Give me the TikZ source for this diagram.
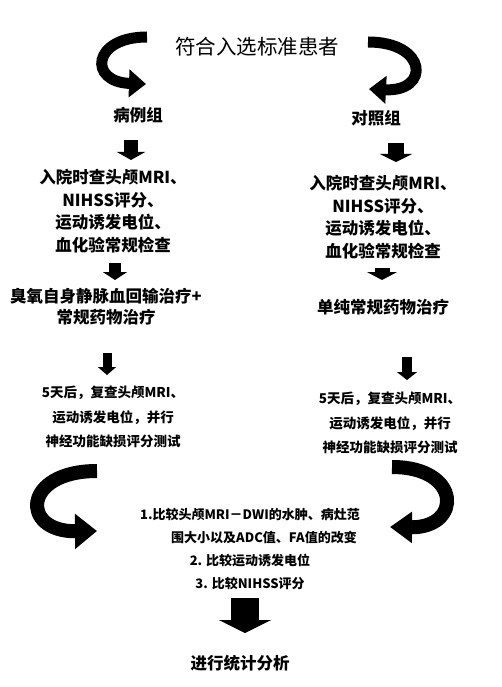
\documentclass[tikz,border=0pt]{standalone}
\usepackage{fontspec}
\newfontfamily\cjk{Noto Sans CJK SC}
\usepackage{tikz}
\usetikzlibrary{arrows.meta,positioning,calc}

\tikzset{
  txt/.style={font=\cjk\bfseries, align=center, inner sep=0pt},
  big/.style={txt, font=\cjk\bfseries\fontsize{16.5}{22.7}\selectfont},
  small/.style={txt, font=\cjk\bfseries\fontsize{13.5}{24.5}\selectfont},
  downarr/.style={draw=black, line width=#1, -{Triangle[length=8pt,width=2*#1]}},
  curvarr/.style={draw=black, line width=11pt, line cap=butt, -{Triangle[length=17pt,width=27pt]}},
}

\begin{document}
\begin{tikzpicture}[x=1pt,y=-1pt]
  \useasboundingbox (0,0) rectangle (502,687);
  % top split
  \node[txt, font=\cjk\fontsize{20.5}{24}\selectfont] (title) at (257,47) {符合入选标准患者};
  \node[txt, font=\cjk\bfseries\fontsize{16.5}{20}\selectfont] (case) at (138,115) {病例组};
  \node[txt, font=\cjk\bfseries\fontsize{16.5}{20}\selectfont] (ctrl) at (376,118) {对照组};
  \coordinate (tl) at (147,37);
  \coordinate (tr) at (368,42);
  \draw[curvarr] (tl) .. controls (92,37) and (88,82) .. (146,84);
  \draw[curvarr] (tr) .. controls (428,42) and (430,92) .. (369,89);

  % case group
  \node[big] (c1) at (113,211) {入院时查头颅MRI、\\NIHSS评分、\\运动诱发电位、\\血化验常规检查};
  \node[big, font=\cjk\bfseries\fontsize{16.5}{21}\selectfont] (c2) at (106,307) {臭氧自身静脉血回输治疗+\\常规药物治疗};
  \node[small] (c3) at (113,417) {5天后，复查头颅MRI、\\运动诱发电位，并行\\神经功能缺损评分测试};
  \coordinate (ca1) at (131,140);
  \coordinate (ca2) at (115,263);
  \coordinate (ca3) at (107,353);
  \draw[downarr=14pt] (ca1) -- ++(0,20);
  \draw[downarr=12pt] (ca2) -- ++(0,17);
  \draw[downarr=9pt] (ca3) -- ++(0,22);

  % control group
  \node[big] (k1) at (383,217) {入院时查头颅MRI、\\NIHSS评分、\\运动诱发电位、\\血化验常规检查};
  \node[big] (k2) at (383,307) {单纯常规药物治疗};
  \node[small] (k3) at (390,423) {5天后，复查头颅MRI、\\运动诱发电位，并行\\神经功能缺损评分测试};
  \coordinate (ka1) at (396,143);
  \coordinate (ka2) at (382,268);
  \coordinate (ka3) at (407,357);
  \draw[downarr=16pt] (ka1) -- ++(0,19);
  \draw[downarr=15pt] (ka2) -- ++(0,12);
  \draw[downarr=10pt] (ka3) -- ++(0,23);

  % merge
  \node[txt, font=\cjk\bfseries\fontsize{13}{22.7}\selectfont] (cmp) at (250,549)
    {1.比较头颅MRI－DWI的水肿、病灶范\\\hspace*{28pt}围大小以及ADC值、FA值的改变\\2. 比较运动诱发电位\\3. 比较NIHSS评分};
  \coordinate (bl) at (97,471);
  \coordinate (br) at (392,467);
  \draw[curvarr, line width=14pt, -{Triangle[length=22pt,width=34pt]}] (bl) .. controls (22,471) and (20,532) .. (97,531);
  \draw[curvarr, line width=14pt, -{Triangle[length=22pt,width=30pt]}] (br) .. controls (462,467) and (462,528) .. (390,527);
  \node[txt, font=\cjk\bfseries\fontsize{16.5}{20}\selectfont] (stat) at (240,663) {进行统计分析};
  \coordinate (ma) at (245,598);
  \draw[downarr=28pt, -{Triangle[length=13pt,width=52pt]}] (ma) -- ++(0,35);
\end{tikzpicture}
\end{document}
